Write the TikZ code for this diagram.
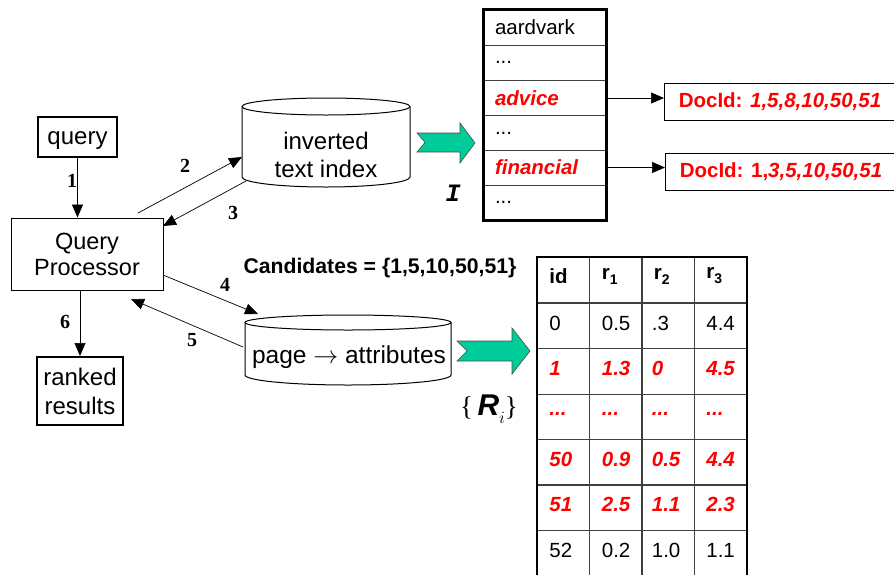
\documentclass[tikz,border=0pt]{standalone}
\usepackage{fontspec}
\setmainfont{Liberation Sans}
\newfontfamily\serifb{Liberation Serif}
\newfontfamily\monob{Liberation Mono}
\usetikzlibrary{arrows.meta}
\definecolor{teal1}{RGB}{0,204,153}
\definecolor{red1}{RGB}{255,0,0}
\newcommand\tdotsx{...}
\newcommand\rsubx[1]{r\raisebox{-5pt}{\fontsize{14}{16}\selectfont #1}}
\tikzset{
  big/.style={font=\fontsize{24}{27}\selectfont},
  med/.style={font=\fontsize{20.5}{24}\selectfont},
  thickbox/.style={draw, line width=2pt, big, inner sep=0pt, align=center},
  thinbox/.style={draw, line width=0.9pt, font=\fontsize{23.5}{27}\selectfont, inner sep=0pt, align=center},
  conn/.style={line width=0.7pt, -{Triangle[length=13pt,width=11pt]}},
  numlab/.style={font=\serifb\bfseries\fontsize{20}{24}\selectfont},
  cyl/.style={draw, line width=1pt, fill=white},
  greenarrow/.style={draw=black!70, line width=0.6pt, fill=teal1},
  listcell/.style={draw=black!75, line width=0.8pt, minimum width=122pt, minimum height=35pt, inner sep=0pt, text width=100pt, align=left, med},
  redcell/.style={text=red1, font=\fontsize{20.5}{24}\selectfont\bfseries\itshape},
  docbox/.style={draw, line width=1pt, minimum width=231pt, minimum height=37pt, inner xsep=10pt, text=red1, font=\fontsize{20.5}{24}\selectfont\bfseries},
  tcell/.style={draw=black!75, line width=0.8pt, minimum width=52.5pt, minimum height=45.5pt, inner sep=0pt},
}
\begin{document}
\begin{tikzpicture}[x=1pt,y=-1pt]
\useasboundingbox (0,0) rectangle (894,574);

% left boxes
\node[thickbox, minimum width=79pt, minimum height=40pt, text depth=0pt] (query) at (77.5,137) {\raisebox{-2pt}{query}};
\node[thinbox, minimum width=152pt, minimum height=72pt] (qp) at (87,254) {Query\\[-1pt]Processor};
\node[thickbox, minimum width=86pt, minimum height=68pt] (ranked) at (80,391) {ranked\\[2pt]results};

\draw[conn] (query.south) -- (query.south |- qp.north);
\draw[conn] (ranked.north |- qp.south) -- (ranked.north);
\node[numlab] (n1) at (72,181) {1};
\node[numlab] (n6) at (65,322) {6};

% cylinder 1
\draw[cyl] (242,106.5) -- (242,177) arc[start angle=180,end angle=0,x radius=84,y radius=10] -- (410,106.5);
\draw[cyl] (326,106.5) ellipse[x radius=84, y radius=8.5];
\node[big, align=center] (iti) at (326,155) {inverted\\[1pt]text index};

% cylinder 2
\draw[cyl] (245,322.5) -- (245,375) arc[start angle=180,end angle=0,x radius=103,y radius=10] -- (451,322.5);
\draw[cyl] (348,322.5) ellipse[x radius=103, y radius=7.5];
\node[font=\fontsize{24.5}{28}\selectfont] (pa) at (349,357) {page $\rightarrow$ attributes};

% connectors 2-5
\coordinate (a2s) at (138,213);
\coordinate (a2e) at (242,157);
\coordinate (a3s) at (246,181);
\coordinate (a3e) at (163,226);
\coordinate (a4s) at (163,275);
\coordinate (a4e) at (258,314);
\coordinate (a5s) at (243,347);
\coordinate (a5e) at (131,299);
\draw[conn] (a2s) -- (a2e);
\draw[conn] (a3s) -- (a3e);
\draw[conn] (a4s) -- (a4e);
\draw[conn] (a5s) -- (a5e);
\node[numlab] (n2) at (185,166) {2};
\node[numlab] (n3) at (233,213) {3};
\node[numlab] (n4) at (225,285) {4};
\node[numlab] (n5) at (192,340) {5};

% green arrows
\draw[greenarrow] (417,133) -- (460,133) -- (460,123) -- (475,143) -- (460,163) -- (460,152) -- (417,152) -- (425,142.5) -- cycle;
\draw[greenarrow] (457,341) -- (512,341) -- (512,328) -- (530,351) -- (512,374) -- (512,361) -- (457,361) -- (467,351) -- cycle;
\node[font=\monob\bfseries\itshape\fontsize{25}{28}\selectfont] (I) at (453,193) {I};
\node[font=\fontsize{27}{30}\selectfont] (Ri) at (489,409) {{\serifb\{}\,{\fontsize{30}{32}\selectfont\bfseries\itshape R}\raisebox{-8pt}{\fontsize{18}{20}\selectfont$i$}{\serifb\}}};

% inverted list
\node[listcell] (L1) at (545,27.5) {aardvark};
\node[listcell] (L2) at (545,62.5) {...};
\node[listcell, redcell] (L3) at (545,98) {advice};
\node[listcell] (L4) at (545,133) {...};
\node[listcell, redcell] (L5) at (545,167.5) {financial};
\node[listcell] (L6) at (545,202.5) {...};
\draw[line width=2.4pt] (L1.north west) rectangle (L6.south east);

\node[docbox, anchor=west] (D1) at (664,101.5) {DocId: \textit{1,5,8,10,50,51}};
\node[docbox, anchor=west] (D2) at (665,171.5) {DocId: 1,\textit{3,5,10,50,51}};
\draw[conn] (L3.east) -- (L3.east -| D1.west);
\draw[conn] (L5.east) -- (L5.east -| D2.west);

% candidates
\node[font=\fontsize{21.2}{24}\selectfont\bfseries] (cand) at (380,268) {Candidates = \{1,5,10,50,51\}};

% table R
\foreach \r/\y in {1/280,2/326,3/371.5,4/417,5/462.5,6/507.5,7/553}{
  \foreach \c/\x in {1/563.5,2/616,3/668,4/720.5}{
    \node[tcell] (R-\r-\c) at (\x,\y) {};
  }
}
\foreach \c/\t in {1/id,2/\rsubx{1},3/\rsubx{2},4/\rsubx{3}}{
  \node[font=\fontsize{20.5}{24}\selectfont\bfseries, anchor=west] (H-\c) at ([xshift=9pt,yshift=4pt]R-1-\c.west) {\t};
}
\foreach \r/\a/\b/\cc/\d/\st in {2/0/0.5/.3/4.4/n, 3/1/1.3/0/4.5/r, 4/\tdotsx/\tdotsx/\tdotsx/\tdotsx/r, 5/50/0.9/0.5/4.4/r, 6/51/2.5/1.1/2.3/r, 7/52/0.2/1.0/1.1/n}{
  \if r\st\def\fst{\color{red1}\bfseries\itshape}\else\def\fst{}\fi
  \node[anchor=west, font=\fontsize{20.5}{24}\selectfont\fst] (T-\r-1) at ([xshift=9pt,yshift=3pt]R-\r-1.west) {\a};
  \node[anchor=west, font=\fontsize{20.5}{24}\selectfont\fst] (T-\r-2) at ([xshift=9pt,yshift=3pt]R-\r-2.west) {\b};
  \node[anchor=west, font=\fontsize{20.5}{24}\selectfont\fst] (T-\r-3) at ([xshift=7pt,yshift=3pt]R-\r-3.west) {\cc};
  \node[anchor=west, font=\fontsize{20.5}{24}\selectfont\fst] (T-\r-4) at ([xshift=9pt,yshift=3pt]R-\r-4.west) {\d};
}
\draw[line width=2.4pt] ([yshift=-6pt]R-7-1.south west) -- (R-1-1.north west) -- (R-1-4.north east) -- ([yshift=-6pt]R-7-4.south east);
\end{tikzpicture}
\end{document}
